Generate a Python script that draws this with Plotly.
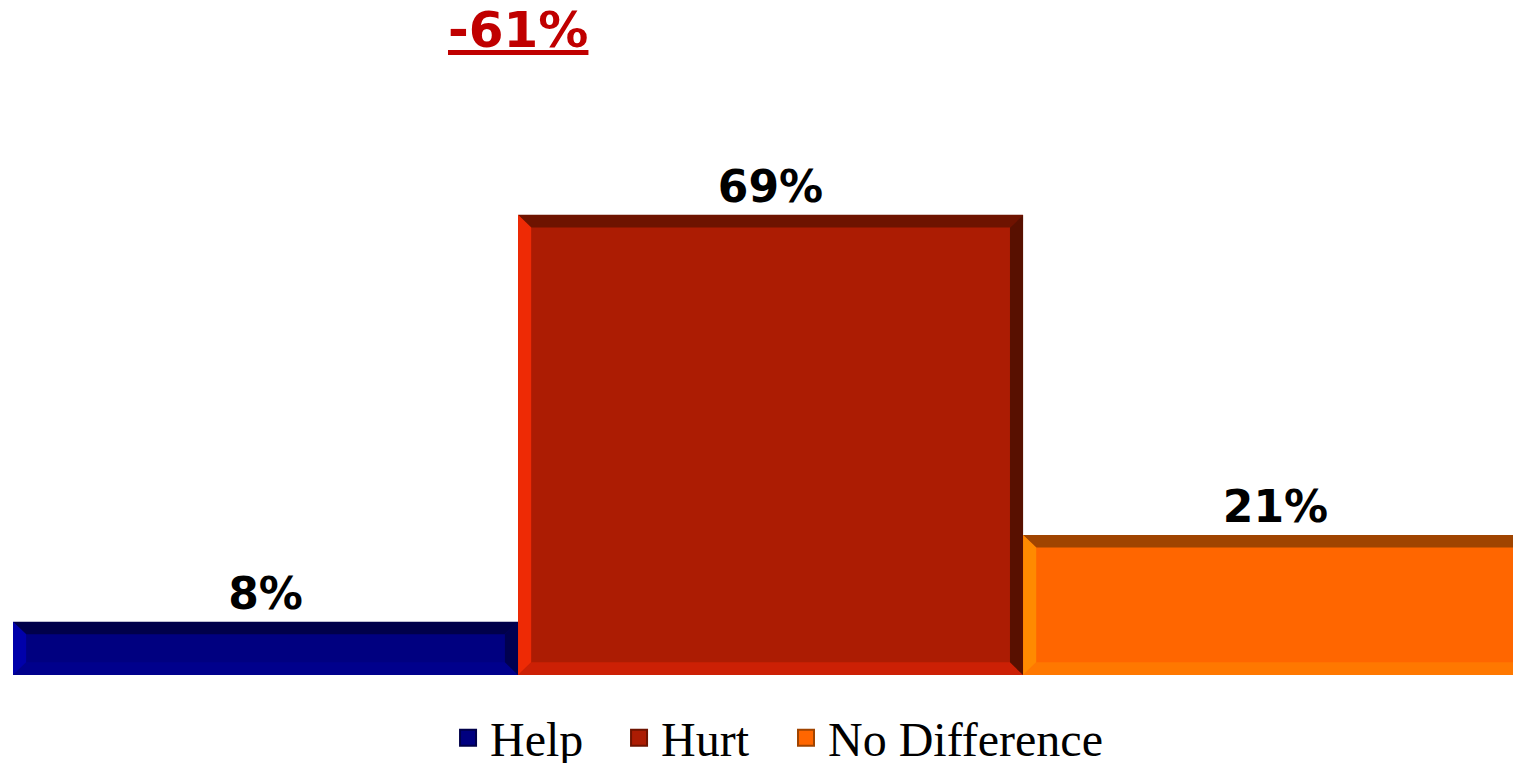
import plotly.graph_objects as go

categories = ["Help", "Hurt", "No Difference"]
values = [8, 69, 21]
labels = ["8%", "69%", "21%"]

main_colors = ["#000080", "#AC1C03", "#FF6600"]
top_colors = ["#00004A", "#6E1300", "#A04400"]
left_colors = ["#0000AA", "#EE2A05", "#FF8A00"]
right_colors = ["#000050", "#581000", "#A04400"]
bottom_colors = ["#00008C", "#CC2005", "#FF7800"]

net = values[0] - values[1]

x_pos = list(range(len(categories)))

fig = go.Figure()
fig.add_trace(go.Bar(
    x=x_pos, y=values, width=1.0,
    marker=dict(color=main_colors, line=dict(width=0)),
    text=labels, textposition="outside", cliponaxis=False,
    textfont=dict(family="DejaVu Sans", size=44, color="black", weight="bold"),
    showlegend=False, hoverinfo="skip",
))

bx = 0.026  # bevel in x units
by = 1.9    # bevel in y units
shapes = []
for i, v in enumerate(values):
    x0, x1 = i - 0.5, i + 0.5
    shapes.append(dict(type="path", xref="x", yref="y", line=dict(width=0), fillcolor=top_colors[i],
                       path=f"M {x0},{v} L {x1},{v} L {x1-bx},{v-by} L {x0+bx},{v-by} Z"))
    shapes.append(dict(type="path", xref="x", yref="y", line=dict(width=0), fillcolor=bottom_colors[i],
                       path=f"M {x0},0 L {x1},0 L {x1-bx},{by} L {x0+bx},{by} Z"))
    shapes.append(dict(type="path", xref="x", yref="y", line=dict(width=0), fillcolor=left_colors[i],
                       path=f"M {x0},0 L {x0},{v} L {x0+bx},{v-by} L {x0+bx},{by} Z"))
    shapes.append(dict(type="path", xref="x", yref="y", line=dict(width=0), fillcolor=right_colors[i],
                       path=f"M {x1},0 L {x1},{v} L {x1-bx},{v-by} L {x1-bx},{by} Z"))

legend_names = ["legend", "legend2", "legend3"]
legend_x = [0.2887, 0.4027, 0.514]
for i, c in enumerate(categories):
    fig.add_trace(go.Scatter(
        x=[None], y=[None], mode="markers", name=c, legend=legend_names[i],
        marker=dict(symbol="square", size=22, color=main_colors[i],
                    line=dict(color=top_colors[i], width=2)),
    ))

fig.add_annotation(
    x=0.5, xref="x", y=0.967, yref="paper", yanchor="middle",
    text=f"<u>{net}%</u>", showarrow=False,
    font=dict(family="DejaVu Sans", size=50, color="#C00000", weight="bold"),
)

legend_common = dict(orientation="h", xanchor="left", y=-0.0945, yanchor="middle",
                     font=dict(family="Liberation Serif", size=48, color="black"),
                     itemsizing="trace", itemwidth=34, bgcolor="rgba(0,0,0,0)")

fig.update_layout(
    width=1513, height=763,
    margin=dict(l=13, r=0, t=8, b=88, autoexpand=False),
    paper_bgcolor="white", plot_bgcolor="white",
    bargap=0,
    shapes=shapes,
    xaxis=dict(range=[-0.5, 2.47], visible=False, fixedrange=True),
    yaxis=dict(range=[0, 100], visible=False, fixedrange=True),
    legend=dict(x=legend_x[0], **legend_common),
    legend2=dict(x=legend_x[1], **legend_common),
    legend3=dict(x=legend_x[2], **legend_common),
)

fig.write_html("out.html", config={"displayModeBar": False},
               post_script="document.body.style.margin='0';document.body.style.overflow='hidden';")
